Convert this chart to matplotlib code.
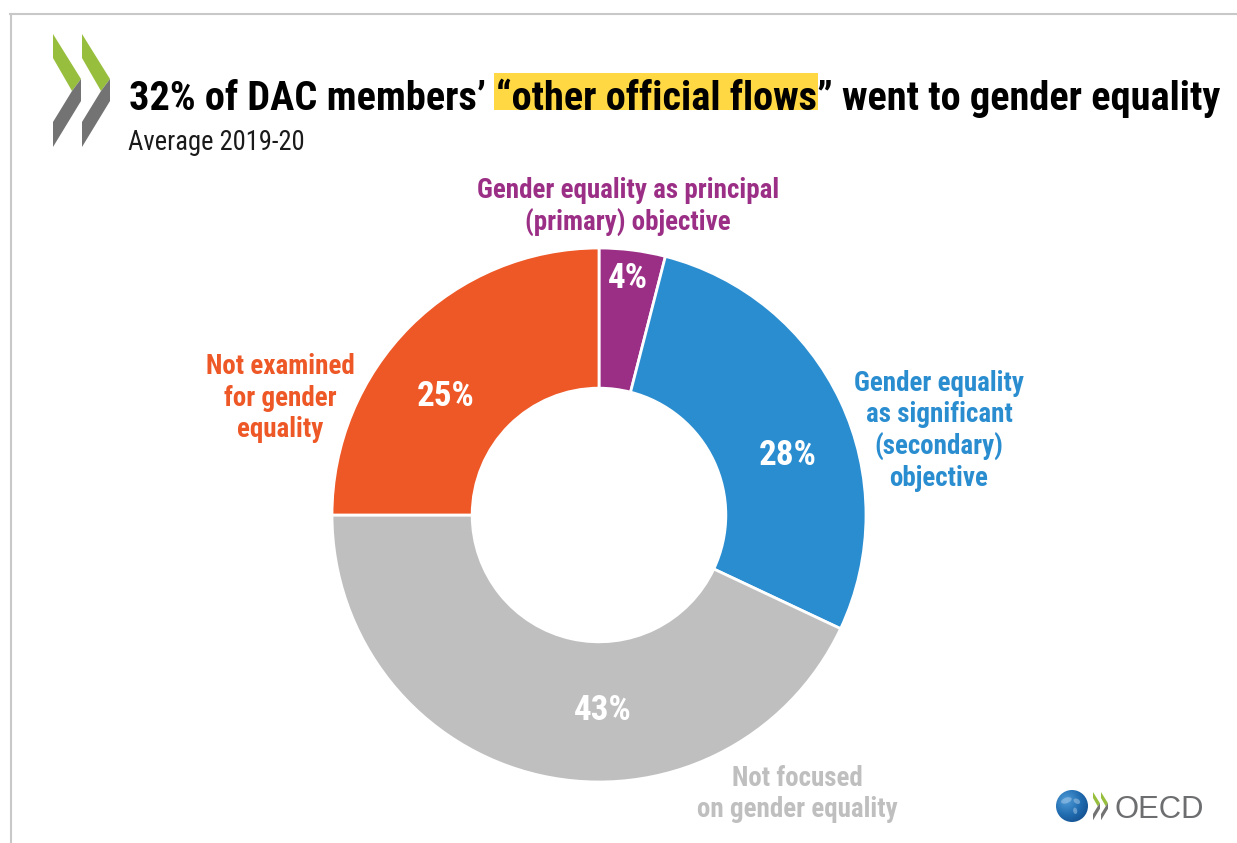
import matplotlib
matplotlib.use("Agg")
import matplotlib.pyplot as plt
from matplotlib.patches import Polygon, Rectangle, Circle, Ellipse
from matplotlib import font_manager
from matplotlib.font_manager import FontProperties
import numpy as np

W, H = 1237, 843

# ---- data -------------------------------------------------------------
categories = [
    "Gender equality as principal\n(primary) objective",
    "Gender equality\nas significant\n(secondary)\nobjective",
    "Not focused\non gender equality",
    "Not examined\nfor gender\nequality",
]
shares = [4, 28, 43, 25]
colors = ["#9B2F86", "#2A8DD0", "#BFBFBF", "#EE5726"]
label_colors = ["#9B2F86", "#2A8DD0", "#BFBFBF", "#EE5726"]

title_parts = ["32% of DAC members\u2019", "\u201cother official flows", "\u201d went to gender equality"]
subtitle = "Average 2019-20"


# ---- fonts: prefer a condensed sans when one is installed --------------
def _w(v):
    if isinstance(v, str):
        return font_manager.weight_dict.get(v, 400)
    return int(v)


def pick_font(want_weight, prefer=("extra-condensed", "condensed", "semi-condensed")):
    families = ["Roboto", "Noto Sans", "Open Sans", "Liberation Sans", "DejaVu Sans", "Lato"]
    best, best_score = None, None
    for f in font_manager.fontManager.ttflist:
        fam_rank = next((i for i, fam in enumerate(families) if f.name.startswith(fam)), None)
        if fam_rank is None:
            continue
        narrow = (f.stretch in prefer) or ("Condensed" in f.name) or ("Narrow" in f.name) \
            or ("Condensed" in f.fname) or ("Narrow" in f.fname)
        if not narrow:
            continue
        if "Italic" in f.fname or f.style != "normal":
            continue
        st = f.stretch if f.stretch in prefer else "condensed"
        score = abs(_w(f.weight) - want_weight) / 100.0 + prefer.index(st) * 0.6 + fam_rank * 0.3
        if best_score is None or score < best_score:
            best, best_score = f, score
    if best is None:
        return FontProperties(family=["Roboto", "DejaVu Sans"],
                              weight="bold" if want_weight >= 600 else "normal")
    return FontProperties(fname=best.fname)


FP_TITLE = pick_font(900)
FP_LABEL = pick_font(600, prefer=("condensed", "semi-condensed", "extra-condensed"))
FP_SUB = pick_font(400, prefer=("condensed", "semi-condensed", "extra-condensed"))


def fp(base, size_px):
    p = base.copy()
    p.set_size(size_px * 72 / 100)
    return p


fig = plt.figure(figsize=(W / 100, H / 100), dpi=100)
fig.patch.set_facecolor("white")


def fx(px):
    return px / W


def fy(py):
    return 1 - py / H


# ---- frame lines ------------------------------------------------------
fig.add_artist(plt.Line2D([fx(10), fx(W)], [fy(14), fy(14)], color="#c8c8c8", lw=1.5,
                          transform=fig.transFigure))
fig.add_artist(plt.Line2D([fx(11), fx(11)], [fy(14), fy(H)], color="#c8c8c8", lw=1.5,
                          transform=fig.transFigure))


# ---- chevron logo -----------------------------------------------------
def chevron(x0, y0, s):
    green = [(0, 0), (28, 45), (19, 57), (0, 24)]
    grey = [(19, 57), (28, 45), (28, 67), (0, 113), (0, 88)]
    for shape, col in ((green, "#97BF3D"), (grey, "#737373")):
        pts = [(fx(x0 + s * x), fy(y0 + s * y)) for x, y in shape]
        fig.add_artist(Polygon(pts, closed=True, facecolor=col, edgecolor="none",
                               transform=fig.transFigure))


chevron(53, 34, 1.0)
chevron(82, 34, 1.0)

# ---- title ------------------------------------------------------------
renderer = fig.canvas.get_renderer()
x_start, x_end, base = 128, 1220, 110


def text_width(s, size):
    t = fig.text(0, 0, s, fontproperties=fp(FP_TITLE, size))
    w = t.get_window_extent(renderer).width
    t.remove()
    return w


def measure(size):
    widths = [text_width(p, size) for p in title_parts]
    space = text_width("x x", size) - text_width("xx", size)
    return widths, space


title_px = 48
widths, space = measure(title_px)
title_px = min(48, title_px * (x_end - x_start) / (sum(widths) + space))
widths, space = measure(title_px)
x_start = x_end - (sum(widths) + space)

x = x_start
positions = []
for i, p in enumerate(title_parts):
    positions.append(x)
    x += widths[i] + (space if i == 0 else 0)

hx0 = positions[1] - 2
hx1 = positions[1] + widths[1] + 1
fig.add_artist(Rectangle((fx(hx0), fy(110)), (hx1 - hx0) / W, 37 / H, facecolor="#FFD843",
                         edgecolor="none", transform=fig.transFigure, zorder=1))
for p, xp in zip(title_parts, positions):
    fig.text(fx(xp), fy(base), p, fontproperties=fp(FP_TITLE, title_px),
             color="black", va="baseline", ha="left", zorder=2)

fig.text(fx(128), fy(150), subtitle, fontproperties=fp(FP_SUB, 26.5), color="#1a1a1a",
         va="baseline", ha="left")

# ---- donut ------------------------------------------------------------
cx, cy, R = 599, 515, 267
ax = fig.add_axes([fx(cx - R), fy(cy + R), 2 * R / W, 2 * R / H])
wedges, _ = ax.pie(shares, colors=colors, startangle=90, counterclock=False, radius=1,
                   wedgeprops=dict(width=0.525, edgecolor="white", linewidth=2))
ax.set_xlim(-1, 1)
ax.set_ylim(-1, 1)
ax.axis("off")

pct_xy = [(0.109, 0.884), (0.708, 0.221), (0.015, -0.734), (-0.573, 0.442)]
for v, (px_, py_) in zip(shares, pct_xy):
    ax.text(px_, py_, f"{v}%", color="white", fontproperties=fp(FP_LABEL, 35),
            ha="center", va="center")

label_pos = [(628, 207), (939, 431), (797, 794), (280, 398)]
for txt, col, (lx, ly) in zip(categories, label_colors, label_pos):
    fig.text(fx(lx), fy(ly), txt, color=col, fontproperties=fp(FP_LABEL, 27),
             ha="center", va="center", multialignment="center", linespacing=1.2)

# ---- OECD footer logo -------------------------------------------------
gx, gy, gr = 1072, 806, 16
gax = fig.add_axes([fx(gx - gr), fy(gy + gr), 2 * gr / W, 2 * gr / H])
yy, xx = np.mgrid[-1:1:200j, -1:1:200j]
d = np.sqrt((xx + 0.35) ** 2 + (yy - 0.35) ** 2)
gax.imshow(d, cmap=matplotlib.colors.LinearSegmentedColormap.from_list(
    "g", ["#4f9ad6", "#1f6aae", "#0f427f"]), extent=(-1, 1, -1, 1), origin="lower")
clip = Circle((0, 0), 1, transform=gax.transData)
gax.images[0].set_clip_path(clip)
for (bx, by, bw, bh, ang) in [(-0.35, 0.35, 0.7, 0.35, 20), (0.3, 0.3, 0.45, 0.3, -30),
                              (0.2, -0.3, 0.25, 0.4, 10)]:
    gax.add_patch(Ellipse((bx, by), bw, bh, angle=ang, facecolor="#b9d5ee",
                          edgecolor="none", alpha=0.45))
gax.set_xlim(-1, 1)
gax.set_ylim(-1, 1)
gax.axis("off")

chevron(1093, 792, 0.25)
chevron(1101, 792, 0.25)
fig.text(fx(1114), fy(818), "OECD", fontproperties=FontProperties(family=["Liberation Sans", "DejaVu Sans"],
                                                                  size=31 * 0.72),
         color="#6d6e70", va="baseline", ha="left")

fig.savefig("out.png", dpi=100)
